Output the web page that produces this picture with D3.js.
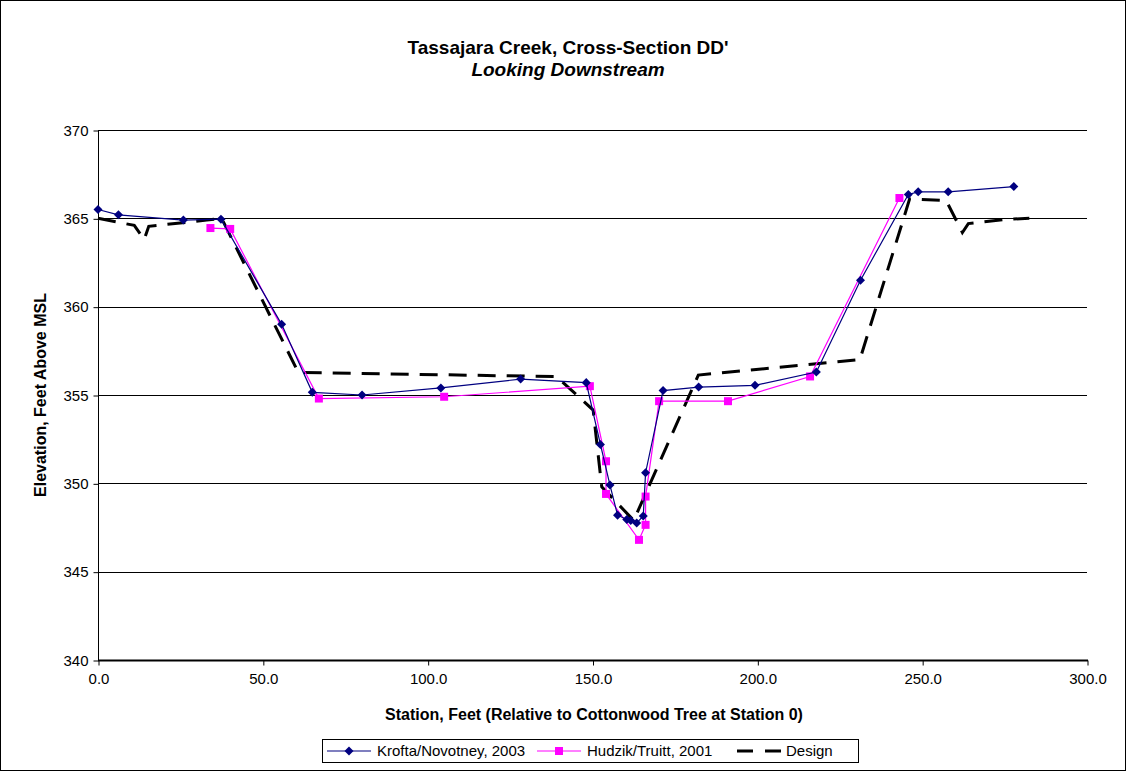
<!DOCTYPE html>
<html>
<head>
<meta charset="utf-8">
<script src="https://cdn.jsdelivr.net/npm/d3@7"></script>
<style>
  html, body { margin: 0; padding: 0; background: #fff; }
  svg { display: block; font-family: "Liberation Sans", Arial, sans-serif; }
</style>
</head>
<body>
<svg id="chart" width="1126" height="771"></svg>
<script>
// Cross-section survey data: station (ft) and elevation (ft above MSL)
const kroftaStation = [0, 6.2, 25.9, 37.3, 55.7, 65.0, 80.1, 104.0, 128.2, 148.1, 152.4, 155.3, 157.6, 160.4, 161.6, 163.4, 165.4, 166.1, 171.4, 182.2, 199.3, 217.9, 231.3, 245.8, 248.8, 257.9, 277.8];
const kroftaElev    = [365.5, 365.2, 364.9, 364.95, 359.0, 355.15, 355.0, 355.4, 355.9, 355.7, 352.2, 349.9, 348.2, 347.95, 347.9, 347.75, 348.15, 350.6, 355.25, 355.45, 355.55, 356.3, 361.5, 366.35, 366.5, 366.5, 366.8];

const hudzikStation = [34.1, 40.1, 67.0, 105.0, 149.2, 154.1, 154.1, 164.1, 166.1, 166.1, 170.2, 191.1, 216.0, 243.1];
const hudzikElev    = [364.45, 364.4, 354.8, 354.9, 355.5, 351.25, 349.4, 346.8, 347.65, 349.25, 354.65, 354.65, 356.05, 366.15];

const designStation = [0, 11.0, 14.0, 15.4, 33.0, 37.5, 60.75, 139.1, 150.2, 152.8, 162.5, 182.1, 231.1, 246.2, 257.3, 262.2, 264.0, 276.1, 282.5];
const designElev    = [365.0, 364.6, 363.8, 364.55, 364.9, 365.0, 356.28, 356.04, 354.15, 349.8, 347.9, 356.13, 357.0, 366.1, 366.0, 364.2, 364.7, 364.95, 365.0];

const xTicks = [0, 50, 100, 150, 200, 250, 300];
const yTicks = [340, 345, 350, 355, 360, 365, 370];

const titleText = "Tassajara Creek, Cross-Section DD'";
const subtitleText = "Looking Downstream";
const xAxisTitle = "Station, Feet (Relative to Cottonwood Tree at Station 0)";
const yAxisTitle = "Elevation, Feet Above MSL";
const seriesNames = ["Krofta/Novotney, 2003", "Hudzik/Truitt, 2001", "Design"];

const svg = d3.select("#chart");
const W = 1126, H = 771;
const plot = { left: 98, right: 1087, top: 130, bottom: 660 };

// outer chart frame
svg.append("rect")
  .attr("x", 0.5).attr("y", 0.5)
  .attr("width", W - 1).attr("height", H - 1)
  .attr("fill", "#fff").attr("stroke", "#000").attr("stroke-width", 1);

const x = d3.scaleLinear().domain([0, 300]).range([plot.left, plot.right]);
const y = d3.scaleLinear().domain([340, 370]).range([plot.bottom, plot.top]);

// horizontal gridlines
svg.append("g")
  .selectAll("line")
  .data(yTicks.filter(d => d !== 340))
  .join("line")
  .attr("x1", plot.left).attr("x2", plot.right)
  .attr("y1", d => Math.round(y(d)) + 0.5).attr("y2", d => Math.round(y(d)) + 0.5)
  .attr("stroke", "#000").attr("stroke-width", 1);

// axes
const yAxis = d3.axisLeft(y).tickValues(yTicks).tickSize(5).tickPadding(5).tickFormat(d3.format("d"));
const xAxis = d3.axisBottom(x).tickValues(xTicks).tickSize(5).tickPadding(8).tickFormat(d3.format(".1f"));

const gy = svg.append("g").attr("transform", `translate(${plot.left + 0.5},0.5)`).call(yAxis);
const gx = svg.append("g").attr("transform", `translate(0.5,${plot.bottom + 0.5})`).call(xAxis);
[gx, gy].forEach(g => {
  g.select(".domain").remove();
  g.selectAll(".tick line").attr("stroke", "#000");
  g.selectAll(".tick text").attr("fill", "#000").style("font-size", "15px")
    .style("font-family", "'Liberation Sans', Arial, sans-serif");
});
svg.append("line").attr("x1", plot.left + 0.5).attr("x2", plot.left + 0.5)
  .attr("y1", plot.top).attr("y2", plot.bottom + 1).attr("stroke", "#000");
svg.append("line").attr("x1", plot.left).attr("x2", plot.right + 1)
  .attr("y1", plot.bottom + 0.5).attr("y2", plot.bottom + 0.5).attr("stroke", "#000").attr("stroke-width", 2);

// titles
svg.append("text").attr("x", 568).attr("y", 54).attr("text-anchor", "middle")
  .style("font-size", "19px").style("font-weight", "bold").text(titleText);
svg.append("text").attr("x", 568).attr("y", 76).attr("text-anchor", "middle")
  .style("font-size", "19px").style("font-weight", "bold").style("font-style", "italic").text(subtitleText);
svg.append("text").attr("x", 594).attr("y", 720).attr("text-anchor", "middle")
  .style("font-size", "16px").style("font-weight", "bold").text(xAxisTitle);
svg.append("text").attr("transform", `translate(46,${(plot.top + plot.bottom) / 2}) rotate(-90)`)
  .attr("text-anchor", "middle")
  .style("font-size", "16px").style("font-weight", "bold").text(yAxisTitle);

const line = d3.line().x(d => x(d[0])).y(d => y(d[1]));
const krofta = kroftaStation.map((s, i) => [s, kroftaElev[i]]);
const hudzik = hudzikStation.map((s, i) => [s, hudzikElev[i]]);
const design = designStation.map((s, i) => [s, designElev[i]]);

const navy = "#000080", pink = "#FF00FF";
const diamond = d3.symbol().type(d3.symbolDiamond2).size(52);

// design profile (dashed)
svg.append("path").datum(design).attr("d", line)
  .attr("fill", "none").attr("stroke", "#000").attr("stroke-width", 3)
  .attr("stroke-dasharray", "18,11");

// Hudzik/Truitt survey
svg.append("path").datum(hudzik).attr("d", line)
  .attr("fill", "none").attr("stroke", pink).attr("stroke-width", 1.2);
svg.append("g").selectAll("rect").data(hudzik).join("rect")
  .attr("x", d => x(d[0]) - 4).attr("y", d => y(d[1]) - 4)
  .attr("width", 8).attr("height", 8).attr("fill", pink);

// Krofta/Novotney survey
svg.append("path").datum(krofta).attr("d", line)
  .attr("fill", "none").attr("stroke", navy).attr("stroke-width", 1.2);
svg.append("g").selectAll("path").data(krofta).join("path")
  .attr("transform", d => `translate(${x(d[0])},${y(d[1])})`)
  .attr("d", diamond).attr("fill", navy);

// legend
const lg = svg.append("g");
lg.append("rect").attr("x", 322.5).attr("y", 739.5).attr("width", 536).attr("height", 23)
  .attr("fill", "#fff").attr("stroke", "#000");
const ly = 751;
const items = [
  { x0: 327, x1: 371, tx: 377, color: navy, kind: "diamond" },
  { x0: 537, x1: 581, tx: 587, color: pink, kind: "square" },
  { x0: 737, x1: 781, tx: 786, color: "#000", kind: "dash" }
];
items.forEach((it, i) => {
  const l = lg.append("line").attr("x1", it.x0).attr("x2", it.x1).attr("y1", ly).attr("y2", ly)
    .attr("stroke", it.color);
  if (it.kind === "dash") {
    l.attr("stroke-width", 3).attr("stroke-dasharray", "16,12");
  } else {
    l.attr("stroke-width", 1.2);
  }
  const cx = (it.x0 + it.x1) / 2;
  if (it.kind === "diamond") {
    lg.append("path").attr("transform", `translate(${cx},${ly})`).attr("d", diamond).attr("fill", it.color);
  } else if (it.kind === "square") {
    lg.append("rect").attr("x", cx - 4).attr("y", ly - 4).attr("width", 8).attr("height", 8).attr("fill", it.color);
  }
  lg.append("text").attr("x", it.tx).attr("y", ly + 5).style("font-size", "15px").text(seriesNames[i]);
});
</script>
</body>
</html>
